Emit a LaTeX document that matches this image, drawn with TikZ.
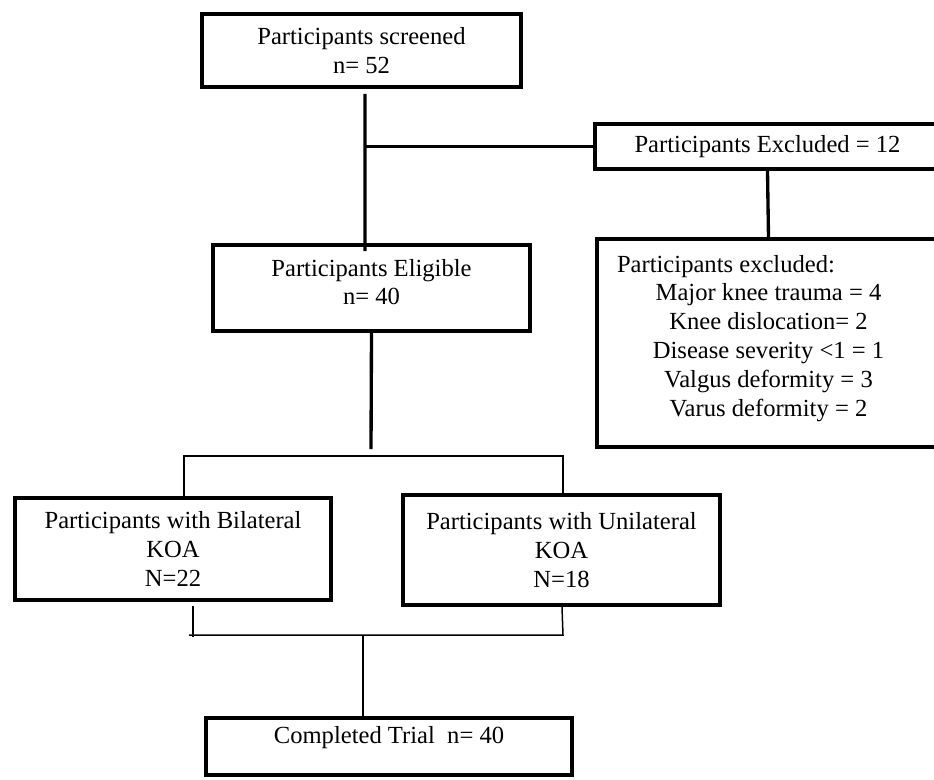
\documentclass[tikz,border=0pt]{standalone}
\usepackage{fontspec}
\setmainfont{Liberation Serif}

\begin{document}
\begin{tikzpicture}[x=0.02cm, y=-0.02cm,
    box/.style={draw, line width=2.2pt, align=center, inner sep=0pt, font=\fontsize{14}{16.4}\selectfont},
    trunk/.style={line width=1.9pt},
    twig/.style={line width=0.85pt}]
    \useasboundingbox (0,0) rectangle (934,779);
    \node[box, minimum width=6.38cm, minimum height=1.46cm] (scr) at (361.5,50.5) {Participants screened\\n= 52};
    \node[box, minimum width=6.34cm, minimum height=1.72cm, text depth=0.24cm] (elig) at (371.5,288) {Participants Eligible\\n= 40};
    \node[box, minimum width=6.9cm, minimum height=0.9cm] (excl) at (767.5,146.5) {Participants Excluded = 12};
    \node[box, minimum width=6.86cm, minimum height=4.16cm, text depth=0.3cm] (detail) at (768.5,343)
        {\makebox[6.06cm][l]{Participants excluded:}\\Major knee trauma = 4\\Knee dislocation= 2\\Disease severity <1 = 1\\Valgus deformity = 3\\Varus deformity = 2};
    \node[box, minimum width=6.32cm, minimum height=2.04cm] (bil) at (173,549) {Participants with Bilateral\\KOA\\N=22};
    \node[box, minimum width=6.34cm, minimum height=2.2cm] (uni) at (561.5,550) {Participants with Unilateral\\KOA\\N=18};
    \node[box, minimum width=7.32cm, minimum height=1.14cm, text depth=0.45cm] (done) at (389,746.5) {Completed Trial~~n= 40};

    \coordinate (split) at (365,146.5);
    \coordinate (fork) at (371,449);
    \coordinate (splitL) at (184,456);
    \coordinate (splitR) at (563,456);
    \coordinate (joinL) at (193,635);
    \coordinate (joinR) at (563,635);
    \coordinate (joinM) at (363,635);

    \draw[trunk] ([shift={(3.5,5)}]scr.south) -- ([shift={(-6.5,8)}]elig.north);
    \draw[trunk] (split) -- (excl.west);
    \draw[trunk] (excl.south) -- (detail.north);
    \draw[trunk] (elig.south) -- (fork);
    \draw[twig] (bil.north -| splitL) -- (splitL) -- (splitR) -- (uni.north -| splitR);
    \draw[twig] ([shift={(0,4)}]bil.south -| joinL) -- ([shift={(0,2)}]joinL);
    \draw[twig] ([shift={(-4,0)}]joinL) -- (joinR) -- ([shift={(-1,0)}]uni.south -| joinR);
    \draw[twig] (joinM) -- (done.north -| joinM);
\end{tikzpicture}
\end{document}
